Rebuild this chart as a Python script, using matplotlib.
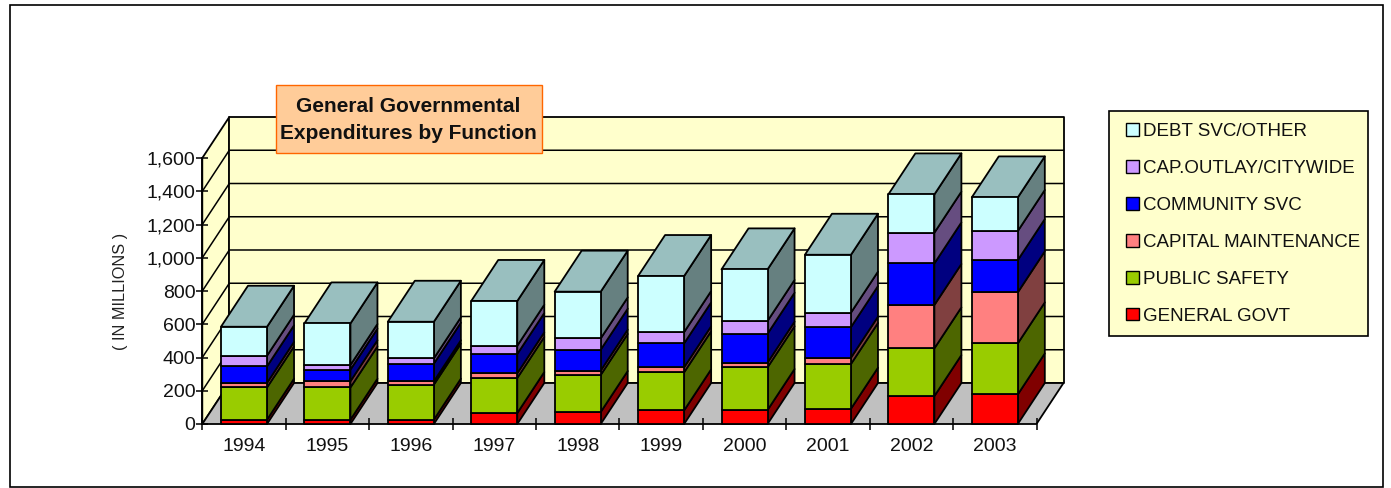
import matplotlib
matplotlib.use("Agg")
import matplotlib.pyplot as plt
from matplotlib.legend_handler import HandlerPatch
from matplotlib.patches import Patch, Rectangle
import numpy as np

years = ["1994", "1995", "1996", "1997", "1998", "1999", "2000", "2001", "2002", "2003"]
general_govt = [26, 26, 26, 66, 72, 82, 84, 92, 168, 178]
public_safety = [194, 194, 211, 211, 223, 229, 257, 269, 287, 307]
capital_maint = [27, 37, 20, 28, 26, 30, 28, 38, 261, 307]
community_svc = [100, 70, 106, 116, 126, 144, 174, 184, 250, 194]
cap_outlay = [64, 28, 32, 50, 68, 68, 77, 87, 185, 175]
debt_svc = [174, 250, 220, 269, 281, 337, 310, 348, 230, 202]

series = [general_govt, public_safety, capital_maint, community_svc, cap_outlay, debt_svc]
names = ["GENERAL GOVT", "PUBLIC SAFETY", "CAPITAL MAINTENANCE", "COMMUNITY SVC",
         "CAP.OUTLAY/CITYWIDE", "DEBT SVC/OTHER"]
front_cols = ["#FF0000", "#99CC00", "#FF8080", "#0000FF", "#CC99FF", "#CCFFFF"]
side_cols = ["#800000", "#4D6600", "#804040", "#000080", "#664D80", "#668080"]
top_col = "#99BFBF"
y_ticks = [0, 200, 400, 600, 800, 1000, 1200, 1400, 1600]

W, H = 1391, 488
plt.rcParams["font.family"] = ["Liberation Sans", "DejaVu Sans"]
fig = plt.figure(figsize=(W / 100, H / 100), dpi=100, facecolor="white")

def box(x0, y0, x1, y1):
    # pixel box, y from the top, to figure fractions
    return [x0 / W, 1 - y1 / H, (x1 - x0) / W, (y1 - y0) / H]

ax = fig.add_axes(box(202.3, 158, 1036.5, 424))
ax.set_xlim(0, 10)
ax.set_ylim(0, 1600)
ax.patch.set_visible(False)
for s in ax.spines.values():
    s.set_visible(False)

# oblique depth of the fake 3d box, in data units
dx = 27 / 83.42
dy = 41 / (266 / 1600)
lw = 1.3
wall = "#FFFFCC"

def face(xs, ys, color, z=1):
    ax.fill(xs, ys, facecolor=color, edgecolor="black", linewidth=lw, clip_on=False,
            joinstyle="round", zorder=z)

# walls and floor
face([0, dx, dx, 0], [0, dy, 1600 + dy, 1600], wall)
face([dx, 10 + dx, 10 + dx, dx], [dy, dy, 1600 + dy, 1600 + dy], wall)
face([0, 10, 10 + dx, dx], [0, 0, dy, dy], "#C0C0C0")
for v in y_ticks[1:-1]:
    ax.plot([0, dx, 10 + dx], [v, v + dy, v + dy], color="black", lw=1.1, clip_on=False, zorder=1.5)
ax.plot([0, 0], [0, 1600], color="black", lw=lw, clip_on=False, zorder=1.5)

# stacked bars, left to right
bar_w = 0.552
lefts = np.arange(len(years)) + (1 - bar_w) / 2
bottom = np.zeros(len(years))
for vals, fc, sc in zip(series, front_cols, side_cols):
    top = bottom + np.array(vals)
    for x, b, t in zip(lefts, bottom, top):
        r = x + bar_w
        face([r, r + dx, r + dx, r], [b, b + dy, t + dy, t], sc, z=2)
        face([x, r, r, x], [b, b, t, t], fc, z=3)
    bottom = top
for x, t in zip(lefts, bottom):
    r = x + bar_w
    face([x, r, r + dx, x + dx], [t, t, t + dy, t + dy], top_col, z=2)

# axes ticks
ax.set_xticks(np.arange(11))
ax.set_xticklabels([])
ax.set_xticks(np.arange(10) + 0.5, labels=years, minor=True)
ax.tick_params(axis="x", which="major", direction="inout", length=8, width=1.1, color="black")
ax.tick_params(axis="x", which="minor", length=0, pad=10, labelsize=14, labelcolor="#111111")
ax.set_yticks(y_ticks)
ax.set_yticklabels([f"{v:,}" for v in y_ticks])
ax.tick_params(axis="y", direction="inout", length=8, width=1.1, pad=1, labelsize=14,
               labelcolor="#111111")
ax.set_ylabel("( IN MILLIONS )", fontsize=11.7, color="#222222")
ax.yaxis.set_label_coords(-0.089, 0.5)

def swatch(legend, orig_handle, xdescent, ydescent, width, height, fontsize):
    return Rectangle((width - 9.4, height / 2 - 4.5), 9.4, 9, linewidth=1.4)

# legend panel on the right, last series first
fig.add_artist(Rectangle((1109 / W, 1 - 336 / H), 259 / W, 225.5 / H, transform=fig.transFigure,
                         facecolor=wall, edgecolor="black", linewidth=1.2, zorder=4))
handles = [Patch(facecolor=c, edgecolor="black") for c in front_cols[::-1]]
leg = fig.legend(handles, names[::-1], loc="upper left",
                 bbox_to_anchor=(1126 / W, 1 - 123 / H), bbox_transform=fig.transFigure,
                 fontsize=13.5, handlelength=0.7, handleheight=0.7, handletextpad=0.23,
                 labelspacing=1.056, borderpad=0, borderaxespad=0, frameon=False,
                 handler_map={Patch: HandlerPatch(patch_func=swatch)})
leg.set_zorder(5)
for t in leg.get_texts():
    t.set_color("#111111")

# title box
fig.add_artist(Rectangle((275.5 / W, 1 - 152.5 / H), 266 / W, 67.5 / H, transform=fig.transFigure,
                         facecolor="#FFCC99", edgecolor="#FF6600", linewidth=1.0, zorder=5))
fig.text(408.5 / W, 1 - 120 / H, "General Governmental\nExpenditures by Function", ha="center",
         va="center", fontsize=15, fontweight="bold", color="#111111", linespacing=1.56, zorder=6)

# outer frame
fig.add_artist(Rectangle((10 / W, 1 - 486.5 / H), 1372.5 / W, 481.5 / H, transform=fig.transFigure,
                         facecolor="none", edgecolor="black", linewidth=1.2, zorder=0))

fig.savefig("out.png", dpi=100)
